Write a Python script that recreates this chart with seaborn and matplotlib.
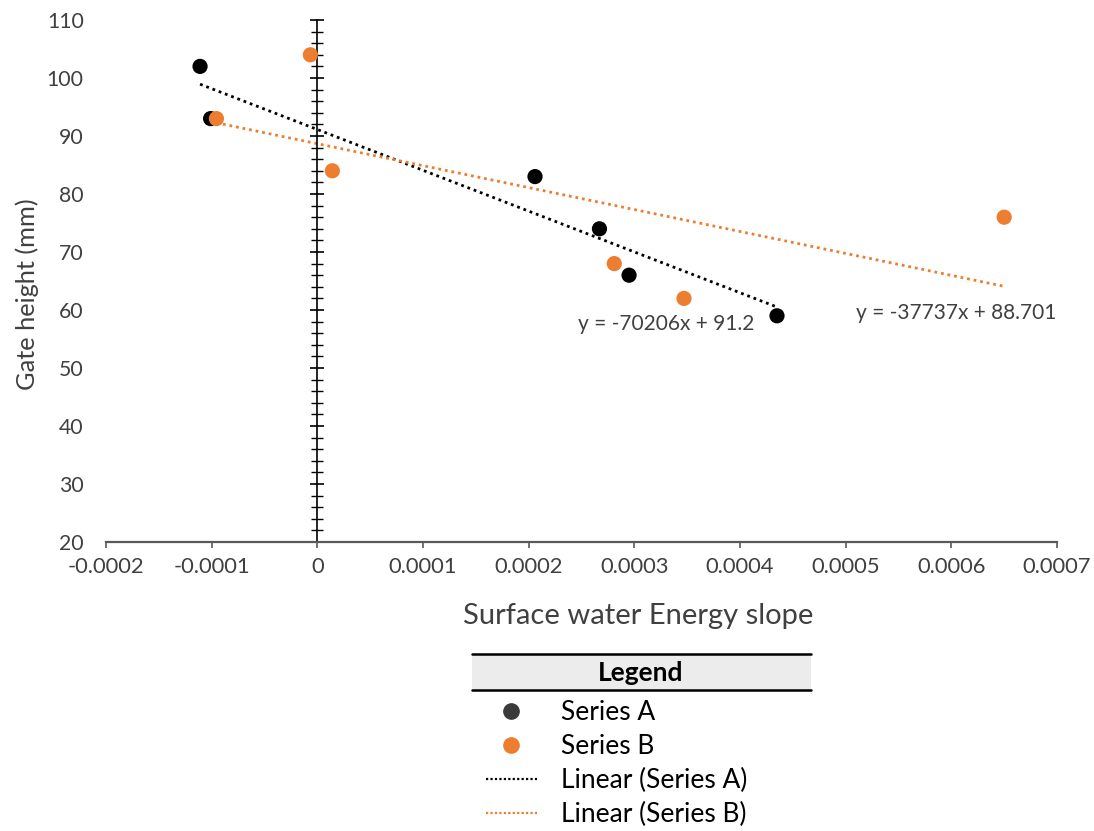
import numpy as np
import pandas as pd
import seaborn as sns
import matplotlib
matplotlib.use("Agg")
import matplotlib.pyplot as plt
from matplotlib.lines import Line2D
from matplotlib.patches import Rectangle
from matplotlib.ticker import MultipleLocator

# ---- data ----
series_a_x = [-0.000111, -0.000101, 0.000206, 0.000267, 0.000295, 0.000435]
series_a_y = [102, 93, 83, 74, 66, 59]
series_b_x = [-0.0000066, -0.0000955, 0.0000142, 0.000281, 0.000347, 0.000650]
series_b_y = [104, 93, 84, 68, 62, 76]
eq_a = "y = -70206x + 91.2"
eq_b = "y = -37737x + 88.701"
x_ticks = [-0.0002, -0.0001, 0, 0.0001, 0.0002, 0.0003, 0.0004, 0.0005, 0.0006, 0.0007]
x_tick_labels = ["-0.0002", "-0.0001", "0", "0.0001", "0.0002", "0.0003", "0.0004", "0.0005", "0.0006", "0.0007"]
y_ticks = [20, 30, 40, 50, 60, 70, 80, 90, 100, 110]

sns.set_style("white")
plt.rcParams['font.family'] = ['Lato', 'DejaVu Sans']

BLACK = "#000000"
ORANGE = "#ED7D31"
TXT = "#404040"

W, H = 1094, 831
fig = plt.figure(figsize=(W / 100, H / 100), dpi=100)
ax = fig.add_axes([106 / W, 1 - 542 / H, (1057 - 106) / W, (542 - 20) / H])

df_a = pd.DataFrame({"x": series_a_x, "y": series_a_y})
df_b = pd.DataFrame({"x": series_b_x, "y": series_b_y})

dots = (0, (1, 1.4))
sns.regplot(data=df_a, x="x", y="y", ax=ax, scatter=False, ci=None, truncate=True,
            line_kws=dict(color=BLACK, lw=2.0, linestyle=dots, zorder=2))
sns.regplot(data=df_b, x="x", y="y", ax=ax, scatter=False, ci=None, truncate=True,
            line_kws=dict(color=ORANGE, lw=2.0, linestyle=dots, zorder=2))
sns.scatterplot(data=df_a, x="x", y="y", ax=ax, color=BLACK, s=120, edgecolor="none", zorder=3)
sns.scatterplot(data=df_b, x="x", y="y", ax=ax, color=ORANGE, s=120, edgecolor="none", zorder=3)

ax.set_xlim(-0.0002, 0.0007)
ax.set_ylim(20, 110)

# spines
ax.spines['top'].set_visible(False)
ax.spines['right'].set_visible(False)
ax.spines['bottom'].set_color("#595959")
ax.spines['bottom'].set_linewidth(1.6)
ax.spines['left'].set_position(('data', 0))
ax.spines['left'].set_color(BLACK)
ax.spines['left'].set_linewidth(1.2)

ax.set_xticks(x_ticks)
ax.set_xticklabels(x_tick_labels)
ax.tick_params(axis='x', direction='out', length=4.5, width=1.2, color="#595959",
               labelsize=15.8, labelcolor=TXT, pad=6, bottom=True)

ax.set_yticks(y_ticks)
ax.yaxis.set_minor_locator(MultipleLocator(2))
ax.tick_params(axis='y', which='major', direction='inout', length=10, width=1.2,
               color=BLACK, labelleft=False, left=True)
ax.tick_params(axis='y', which='minor', direction='inout', length=8, width=1.0,
               color=BLACK, left=True)

sec = ax.secondary_yaxis('left')
sec.set_yticks(y_ticks)
sec.spines['left'].set_visible(False)
sec.tick_params(axis='y', length=0, labelsize=15.3, labelcolor=TXT, pad=16)

ax.set_xlabel("")
ax.set_ylabel("")
fig.text(638 / W, 1 - 616 / H, "Surface water Energy slope", fontsize=21, color=TXT,
         ha="center", va="center")
fig.text(27 / W, 1 - 294 / H, "Gate height (mm)", fontsize=18.3, color=TXT,
         ha="center", va="center", rotation=90)

ax.text(0.000330, 57.6, eq_a, fontsize=15, color=TXT, ha="center", va="center")
ax.text(0.000605, 59.4, eq_b, fontsize=15, color=TXT, ha="center", va="center")

# ---- legend header ----
fig.patches.append(Rectangle((472 / W, 1 - 690 / H), (811 - 472) / W, 36 / H,
                             transform=fig.transFigure, facecolor="#ECECEC", edgecolor="none"))
fig.lines.append(Line2D([472 / W, 811 / W], [1 - 654 / H] * 2, transform=fig.transFigure,
                        color=BLACK, lw=1.8))
fig.lines.append(Line2D([472 / W, 811 / W], [1 - 690 / H] * 2, transform=fig.transFigure,
                        color=BLACK, lw=1.8))
fig.text(641 / W, 1 - 673 / H, "Legend", fontsize=19, fontweight="bold", color=BLACK,
         ha="center", va="center")

handles = [
    Line2D([], [], marker='o', linestyle='none', color="#3A3A3A", markersize=11),
    Line2D([], [], marker='o', linestyle='none', color=ORANGE, markersize=11),
    Line2D([], [], color=BLACK, lw=1.6, linestyle=(0, (1, 1))),
    Line2D([], [], color=ORANGE, lw=1.6, linestyle=(0, (1, 1))),
]
labels = ["Series A", "Series B", "Linear (Series A)", "Linear (Series B)"]
fig.legend(handles, labels, loc='upper left', bbox_to_anchor=(486 / W, 1 - 700 / H),
           frameon=False, fontsize=19, handlelength=1.93, handletextpad=0.9,
           labelspacing=0.34, borderpad=0, borderaxespad=0, labelcolor=BLACK)

fig.savefig("out.png", dpi=100)
